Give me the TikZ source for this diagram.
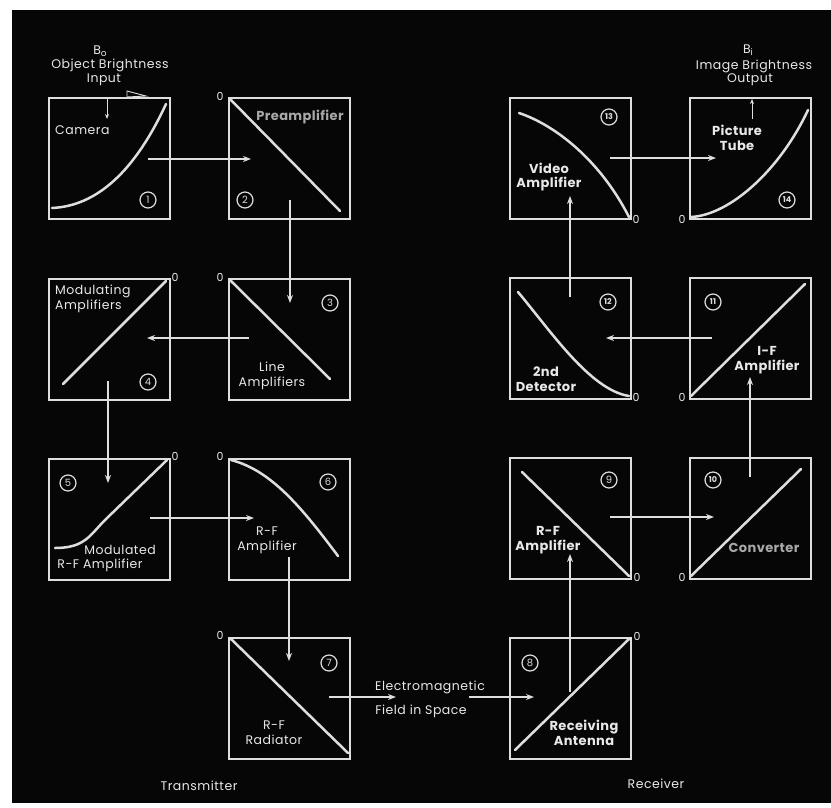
\documentclass[tikz,border=0pt]{standalone}
\usepackage{fontspec}
\setmainfont{Poppins}
\usetikzlibrary{arrows.meta}
\definecolor{bgcol}{HTML}{060606}
\definecolor{linecol}{HTML}{DEDEDE}
\definecolor{textcol}{HTML}{E8E8E8}
\definecolor{fadecol}{HTML}{A8A8A8}
\newcommand{\regfont}{\fontsize{12.5}{14.8}\selectfont\addfontfeature{LetterSpace=4}}
\newcommand{\boldfont}{\fontsize{13}{14.8}\selectfont\bfseries\addfontfeature{LetterSpace=3}}
\begin{document}
\begin{tikzpicture}[x=1pt,y=-1pt,
  box/.style={draw=linecol, line width=1.6pt, minimum width=121pt, minimum height=121pt, inner sep=0pt, anchor=north west},
  curve/.style={draw=linecol, line width=2.5pt, line cap=round},
  lab/.style={text=textcol, font=\regfont, align=center, inner sep=0pt},
  blab/.style={text=textcol, font=\boldfont, align=center, inner sep=0pt},
  zero/.style={text=textcol, font=\fontsize{11}{11}\selectfont, inner sep=0pt},
  num/.style={circle, draw=linecol, line width=1.2pt, inner sep=0pt, minimum size=16pt, text=linecol, font=\fontsize{10}{10}\selectfont},
  numb/.style={num, font=\fontsize{8}{8}\selectfont\bfseries},
  arr/.style={draw=linecol, line width=1.7pt, -{Stealth[length=8pt,width=6pt]}},
  sarr/.style={draw=linecol, line width=1pt, -{Stealth[length=5pt,width=4pt]}}
]
\useasboundingbox (0,0) rectangle (831,807);
\fill[white] (0,0) rectangle (831,807);
\fill[bgcol] (12,10) rectangle (831,803);

% boxes
\node[box] (b1) at (48,97) {};
\node[box] (b2) at (228,97) {};
\node[box] (b3) at (228,278) {};
\node[box] (b4) at (48,278) {};
\node[box] (b5) at (48,458) {};
\node[box] (b6) at (228,458) {};
\node[box] (b7) at (228,637) {};
\node[box] (b8) at (509,637) {};
\node[box] (b9) at (509,457) {};
\node[box] (b10) at (689,457) {};
\node[box] (b11) at (689,277) {};
\node[box] (b12) at (509,277) {};
\node[box] (b13) at (509,97) {};
\node[box] (b14) at (689,97) {};

% transfer curves
\draw[curve] (52,208) .. controls (97,206) and (135,171) .. (166,104);
\draw[curve] (231,100) -- (340,211);
\draw[curve] (231,281) -- (330,379);
\draw[curve] (63,384) -- (166,281);
\draw[curve] (55,548) .. controls (85,548) and (90,535) .. (105,520) -- (167,460);
\draw[curve] (231,460) .. controls (270,470) and (300,505) .. (338,556);
\draw[curve] (231,639) -- (348,753);
\draw[curve] (515,750) -- (629,639);
\draw[curve] (522,472) -- (629,576);
\draw[curve] (691,576) -- (801,469);
\draw[curve] (691,396) -- (805,284);
\draw[curve] (518,292) .. controls (550,330) and (590,390) .. (629,396);
\draw[curve] (519,113) .. controls (555,125) and (600,160) .. (629,217);
\draw[curve] (691,217) .. controls (730,215) and (780,170) .. (808,110);

% zero labels
\node[zero] (z2) at (220,96) {0};
\node[zero] (z3) at (220,277) {0};
\node[zero] (z4) at (175,277) {0};
\node[zero] (z5) at (175,456) {0};
\node[zero] (z6) at (220,456) {0};
\node[zero] (z7) at (220,635) {0};
\node[zero] (z8) at (637,636) {0};
\node[zero] (z9) at (637,577) {0};
\node[zero] (z10) at (682,577) {0};
\node[zero] (z11) at (682,397) {0};
\node[zero] (z12) at (636,397) {0};
\node[zero] (z13) at (636,219) {0};
\node[zero] (z14) at (682,219) {0};

% circled numbers
\node[num] (n1) at (148,200) {1};
\node[num] (n2) at (245,200) {2};
\node[num] (n3) at (330,303) {3};
\node[num] (n4) at (148,382) {4};
\node[num] (n5) at (68,483) {5};
\node[num] (n6) at (328,482) {6};
\node[num] (n7) at (329,663) {7};
\node[num] (n8) at (530,663) {8};
\node[num] (n9) at (609,480) {9};
\node[numb] (n10) at (713,480) {10};
\node[numb] (n11) at (713,302) {11};
\node[numb] (n12) at (608,302) {12};
\node[numb] (n13) at (609,117) {13};
\node[numb] (n14) at (787,200) {14};

% labels
\node[lab] (bo) at (100,51) {B\raisebox{-2pt}{\fontsize{9}{9}\selectfont o}};
\node[lab] (obi) at (110,65) {Object Brightness};
\node[lab] (inp) at (104,80) {Input};
\node[lab, anchor=west] (cam) at (55,130) {Camera};
\node[blab, text=fadecol] (pre) at (300,117) {Preamplifier};
\node[lab, anchor=west, align=left] (mod) at (55,299) {Modulating\\Amplifiers};
\node[lab] (line) at (272,376) {Line\\Amplifiers};
\node[lab] (mdl) at (120,550) {Modulated};
\node[lab] (rfa5) at (100,565) {R-F Amplifier};
\node[lab] (rfa6) at (267,540) {R-F\\Amplifier};
\node[lab] (rad) at (274,733) {R-F\\Radiator};
\node[lab] (em) at (430,687) {Electromagnetic};
\node[lab] (fis) at (421,711) {Field in Space};
\node[blab] (ant) at (584,733) {Receiving\\Antenna};
\node[blab] (rfa9) at (548,540) {R-F\\Amplifier};
\node[blab, text=fadecol] (conv) at (764,548) {Converter};
\node[blab] (ifa) at (767,360) {I-F\\Amplifier};
\node[blab] (det) at (546,379) {2nd\\Detector};
\node[blab] (vid) at (549,177) {Video\\Amplifier};
\node[blab] (pic) at (737,138) {Picture\\Tube};
\node[lab] (bi) at (748,50) {B\raisebox{-2pt}{\fontsize{9}{9}\selectfont i}};
\node[lab] (ibo) at (754,66) {Image Brightness};
\node[lab] (outp) at (750,80) {Output};
\node[lab] (tx) at (199,786) {Transmitter};
\node[lab] (rx) at (656,784) {Receiver};

% arrow end points
\coordinate (a12s) at (148,159); \coordinate (a12e) at (251,159);
\coordinate (a23s) at (290,200); \coordinate (a23e) at (290,303);
\coordinate (a34s) at (249,338); \coordinate (a34e) at (147,338);
\coordinate (a45s) at (108,381); \coordinate (a45e) at (108,483);
\coordinate (a56s) at (150,518); \coordinate (a56e) at (254,518);
\coordinate (a67s) at (289,557); \coordinate (a67e) at (289,661);
\coordinate (a78s) at (329,697); \coordinate (a78m) at (396,697);
\coordinate (a78n) at (469,697); \coordinate (a78e) at (534,697);
\coordinate (a89s) at (570,692); \coordinate (a89e) at (570,554);
\coordinate (a910s) at (610,517); \coordinate (a910e) at (714,517);
\coordinate (a1011s) at (750,477); \coordinate (a1011e) at (750,377);
\coordinate (a1112s) at (712,338); \coordinate (a1112e) at (606,338);
\coordinate (a1213s) at (570,297); \coordinate (a1213e) at (570,196);
\coordinate (a1314s) at (610,158); \coordinate (a1314e) at (716,158);
\coordinate (ains) at (107,99); \coordinate (aine) at (107,119);
\coordinate (aouts) at (752,119); \coordinate (aoute) at (752,99);

\draw[arr] (a12s) -- (a12e);
\draw[arr] (a23s) -- (a23e);
\draw[arr] (a34s) -- (a34e);
\draw[arr] (a45s) -- (a45e);
\draw[arr] (a56s) -- (a56e);
\draw[arr] (a67s) -- (a67e);
\draw[arr] (a78s) -- (a78m);
\draw[arr] (a78n) -- (a78e);
\draw[arr] (a89s) -- (a89e);
\draw[arr] (a910s) -- (a910e);
\draw[arr] (a1011s) -- (a1011e);
\draw[arr] (a1112s) -- (a1112e);
\draw[arr] (a1213s) -- (a1213e);
\draw[arr] (a1314s) -- (a1314e);
\draw[sarr] (ains) -- (aine);
\draw[sarr] (aouts) -- (aoute);

% small open pointer on top edge of camera box
\coordinate (ptr) at (146,96);
\draw[linecol, line width=0.9pt] (127,91) -- (ptr) -- (127,97) -- cycle;
\end{tikzpicture}
\end{document}
